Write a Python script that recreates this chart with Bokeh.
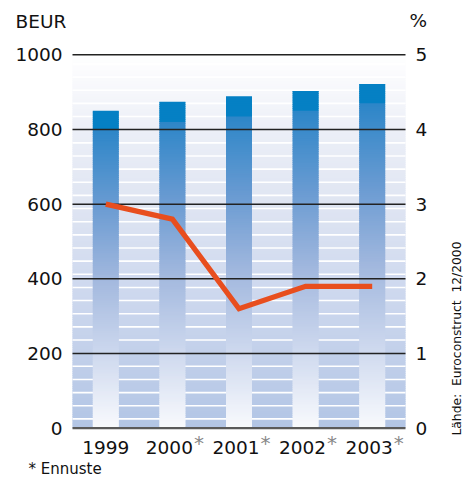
import math
import numpy as np
from bokeh.plotting import figure
from bokeh.models import Range1d
from bokeh.core.properties import value
from bokeh.embed import file_html
from bokeh.resources import INLINE

# ---- data ----
years = ["1999", "2000", "2001", "2002", "2003"]
forecast = [False, True, True, True, True]
volume_beur = [850, 874, 888, 903, 922]
growth_pct = [3.0, 2.8, 1.6, 1.9, 1.9]
left_ticks = [0, 200, 400, 600, 800, 1000]
right_ticks = [0, 1, 2, 3, 4, 5]
left_title = "BEUR"
right_title = "%"
footnote = "* Ennuste"
source_text = "L\u00e4hde:\u00a0 Euroconstruct\u00a0 12/2000"

FONT = "DejaVu Sans"
TXT = "#111111"

# ---- layout (canvas pixels) ----
W, H = 470, 476
OFF = 0                       # page offset of the canvas
PX_L, PX_R = 72, 405          # plot area left/right on canvas
PY_T, PY_B = 54.3, 427.7      # plot area top (1000) / bottom (0) on canvas
n = len(years)
YMAX = 1000.0
PCT_MAX = 5.0
sx = (PX_R - PX_L) / n
sy = (PY_B - PY_T) / YMAX
x0 = -PX_L / sx
x1 = n + (W - PX_R) / sx
y0 = -(H - PY_B) / sy
y1 = YMAX + PY_T / sy
k = YMAX / PCT_MAX


def hex2rgb(h):
    h = h.lstrip("#")
    return np.array([int(h[i:i + 2], 16) for i in (0, 2, 4)], dtype=float)


def interp_color(v, stops_v, stops_c):
    rgb = np.array([hex2rgb(c) for c in stops_c])
    out = [np.interp(v, stops_v, rgb[:, j]) for j in range(3)]
    return "#%02x%02x%02x" % tuple(int(round(c)) for c in out)


def px_y(page_y):
    return -(page_y - OFF - PY_B) / sy


def px_x(page_x):
    return (page_x - OFF - PX_L) / sx


p = figure(width=W, height=H, x_range=Range1d(x0, x1), y_range=Range1d(y0, y1),
           output_backend="svg", toolbar_location=None,
           min_border=0, min_border_left=0, min_border_right=0,
           min_border_top=0, min_border_bottom=0)
p.extra_y_ranges = {"pct": Range1d(y0 / k, y1 / k)}
p.axis.visible = False
p.grid.visible = False
p.outline_line_color = None
p.background_fill_color = "white"
p.border_fill_color = "white"

# ---- background gradient ----
bg_v = [0, 200, 400, 600, 800, 900, 1000]
bg_c = ["#b2c5e5", "#c2d0ea", "#d0daef", "#dfe5f2", "#eceff7", "#f6f7fb", "#ffffff"]
step = 5
ov = 3.0
bot = np.arange(0, YMAX, step)
p.quad(left=0, right=n, bottom=bot, top=np.minimum(bot + step + ov, YMAX),
       fill_color=[interp_color(b + step / 2, bg_v, bg_c) for b in bot], line_color=None)

# ---- white stripes in background ----
stripes = [s for s in np.arange(25, 990, 35.2) if min(abs(s - t) for t in left_ticks) > 8]
p.segment(x0=0, x1=n, y0=stripes, y1=stripes, line_color="white", line_width=1.6)

# ---- bars with gradient ----
bar_w = 0.39
cap = 52
bf_v = [0, 0.235, 0.47, 0.7, 0.94]
bf_c = ["#f9fafd", "#cdd8ee", "#a2b8de", "#6a9bd2", "#2d86c8"]
for i, v in enumerate(volume_beur):
    xc = i + 0.5
    b = np.arange(0, v, step, dtype=float)
    t = np.minimum(b + step + ov, v)
    cols = []
    for bb in b:
        mid = bb + step / 2
        if mid > v - cap:
            cols.append("#0580c4")
        else:
            cols.append(interp_color(mid / v, bf_v, bf_c))
    p.quad(left=xc - bar_w / 2, right=xc + bar_w / 2, bottom=b, top=t,
           fill_color=cols, line_color=None)

# ---- gridlines and base line ----
gl = left_ticks[1:]
p.segment(x0=0, x1=n, y0=gl, y1=gl, line_color="#222222", line_width=1.5)
p.segment(x0=[0], x1=[n], y0=[0], y1=[0], line_color="#5a5a5a", line_width=2.2)

# ---- growth line ----
p.line(x=[i + 0.5 for i in range(n)], y=growth_pct, y_range_name="pct",
       line_color="#e84e1e", line_width=5.3, line_join="miter", line_cap="butt")

# ---- tick labels ----
std = 10 / sx
p.text(x=[-std] * len(left_ticks), y=left_ticks, text=[str(t) for t in left_ticks],
       text_align="right", text_baseline="middle", text_font=value(FONT),
       text_font_size="18.5px", text_color=TXT)
p.text(x=[n + std] * len(right_ticks), y=right_ticks, text=[str(t) for t in right_ticks],
       y_range_name="pct", text_align="left", text_baseline="middle", text_font=value(FONT),
       text_font_size="18.5px", text_color=TXT)

yr_mid = px_y(447)
star_mid = px_y(442)
plain_x = [i + 0.5 for i in range(n) if not forecast[i]]
plain_t = [years[i] for i in range(n) if not forecast[i]]
fc_x = [i + 0.5 + 20.5 / sx for i in range(n) if forecast[i]]
fc_t = [years[i] for i in range(n) if forecast[i]]
p.text(x=plain_x, y=[yr_mid] * len(plain_x), text=plain_t, text_align="center",
       text_baseline="middle", text_font=value(FONT), text_font_size="18.5px",
       text_color=TXT)
p.text(x=fc_x, y=[yr_mid] * len(fc_x), text=fc_t, text_align="right",
       text_baseline="middle", text_font=value(FONT), text_font_size="18.5px",
       text_color=TXT)
p.text(x=[x + 1 / sx for x in fc_x], y=[star_mid] * len(fc_x), text=["*"] * len(fc_x),
       text_align="left", text_baseline="middle", text_font=value(FONT),
       text_font_size="20px", text_color="#888888")

# ---- titles / notes ----
p.text(x=[px_x(15)], y=[px_y(21)], text=[left_title], text_align="left",
       text_baseline="middle", text_font=value(FONT), text_font_size="18.5px",
       text_color=TXT)
p.text(x=[px_x(409)], y=[px_y(20)], text=[right_title], text_align="left",
       text_baseline="middle", text_font=value(FONT), text_font_size="18.5px",
       text_color=TXT)
p.text(x=[px_x(28)], y=[px_y(468)], text=[footnote], text_align="left",
       text_baseline="middle", text_font=value(FONT), text_font_size="15px",
       text_color=TXT)
p.text(x=[px_x(456.5)], y=[px_y(338)], text=[source_text], angle=math.pi / 2,
       text_align="center", text_baseline="middle", text_font=value(FONT),
       text_font_size="12.3px", text_color=TXT)

open("out.html", "w").write(file_html(p, INLINE))
